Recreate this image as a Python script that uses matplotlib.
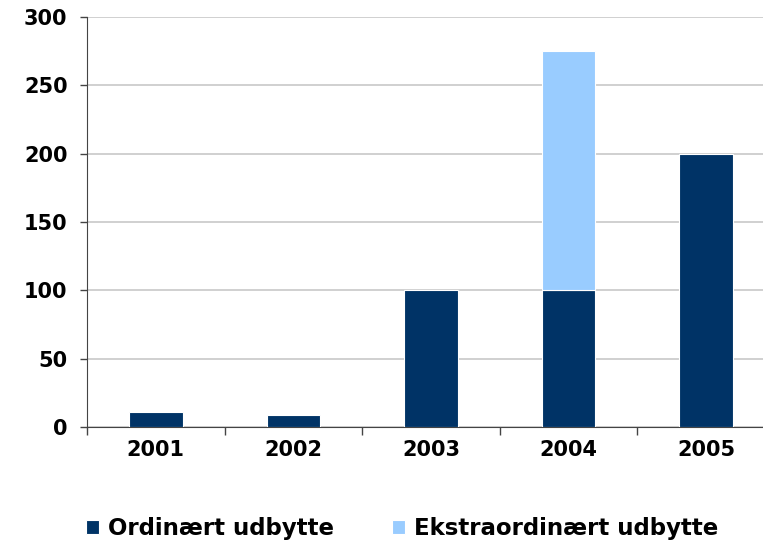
import matplotlib.pyplot as plt
import numpy as np

years = ["2001", "2002", "2003", "2004", "2005"]
ordinary = [11, 9, 100, 100, 200]
extra = [0, 0, 0, 175, 0]
labels = ["Ordinært udbytte", "Ekstraordinært udbytte"]
colors = ["#003366", "#99ccff"]


def main():
    plt.rcParams["font.family"] = ["DejaVu Sans"]
    plt.rcParams["font.weight"] = "bold"
    fig = plt.figure(figsize=(7.63, 5.48), dpi=100)
    ax = fig.add_axes([0.114, 0.2208, 0.9015, 0.748])

    x = np.arange(len(years))
    ax.bar(x, ordinary, width=0.39, color=colors[0], edgecolor="white",
           linewidth=0.8, label=labels[0], zorder=3)
    ext = np.array(extra, dtype=float)
    mask = ext > 0
    ax.bar(x[mask], ext[mask], width=0.39, bottom=np.array(ordinary)[mask],
           color=colors[1], edgecolor="white", linewidth=0.8,
           label=labels[1], zorder=3)

    ax.set_xlim(-0.5, len(years) - 0.5)
    ax.set_ylim(0, 300)
    ax.set_yticks(range(0, 301, 50))
    ax.yaxis.grid(True, color="#c8c8c8", linewidth=1.2, zorder=0)
    ax.set_axisbelow(True)

    ax.set_xticks(x)
    ax.set_xticklabels(years, fontsize=15, fontweight="bold")
    ax.tick_params(axis="x", which="major", length=0, pad=9)
    ax.set_xticks(np.arange(-0.5, len(years), 1.0), minor=True)
    ax.tick_params(axis="x", which="minor", length=6, width=1, color="#444444")
    ax.tick_params(axis="y", length=5, width=1, color="#444444",
                   labelsize=15, pad=9)
    for t in ax.get_yticklabels():
        t.set_fontweight("bold")

    for s in ["top", "right"]:
        ax.spines[s].set_visible(False)
    ax.spines["left"].set_color("#444444")
    ax.spines["bottom"].set_color("#444444")

    fig.legend(loc="center", bbox_to_anchor=(0.527, 0.036), ncol=2, frameon=False,
               prop={"size": 16.5, "weight": "bold"}, handlelength=0.57,
               handleheight=0.57, handletextpad=0.4, columnspacing=2.5)

    plt.savefig("out.png", dpi=100)
    plt.close()


main()
